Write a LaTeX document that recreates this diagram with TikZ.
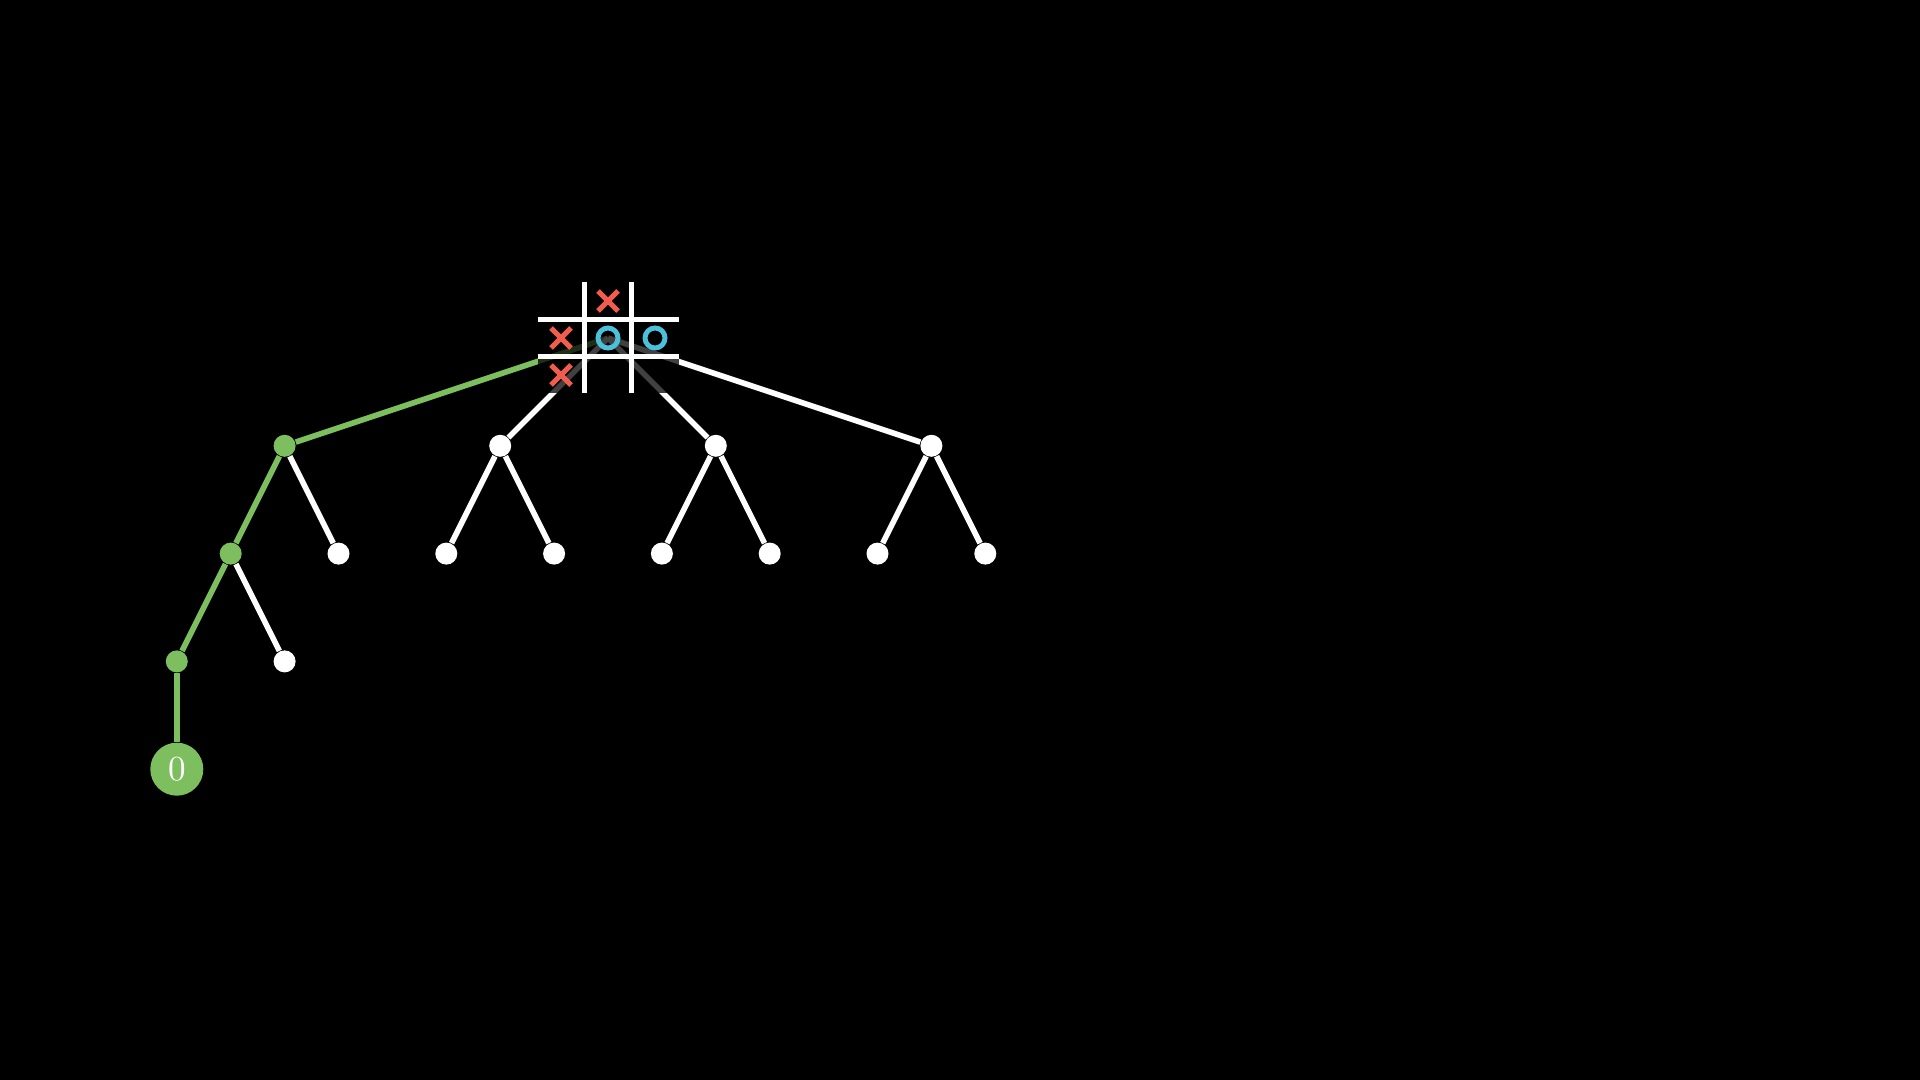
\documentclass[tikz,border=0pt]{standalone}
\usetikzlibrary{positioning}
\definecolor{pathgreen}{RGB}{125,190,95}
\definecolor{xred}{RGB}{240,92,78}
\definecolor{oblue}{RGB}{75,192,218}

\begin{document}
\begin{tikzpicture}[
    vert/.style={circle,fill=white,inner sep=0pt,minimum size=0.22cm},
    gvert/.style={vert,fill=pathgreen},
    link/.style={white,line width=1.6pt},
    glink/.style={link,pathgreen},
    boardline/.style={white,line width=1.5pt},
    xmark/.style={xred,line width=1.5pt},
    omark/.style={oblue,line width=1.4pt},
    node distance=1.078cm and 0.539cm, on grid]

  %background
  \fill[black] (0,0) rectangle (19.2,-10.8);

  \def\d{1.078};
  \def\rx{6.08};
  \def\ry{-3.38};

  \coordinate (root) at (\rx,\ry);

  %level 1
  \foreach \i/\name/\sty in {-3/a/gvert,-1/b/vert,1/c/vert,3/d/vert}{
     \node[\sty] (\name) at (\rx+\i*\d, \ry-\d) {};
  }

  %level 2
  \node[gvert] (a1) [below left=of a] {};
  \node[vert]  (a2) [below right=of a] {};
  \foreach \p in {b,c,d}{
     \node[vert] (\p1) [below left=of \p] {};
     \node[vert] (\p2) [below right=of \p] {};
  }

  %level 3
  \node[gvert] (a11) [below left=of a1] {};
  \node[vert]  (a12) [below right=of a1] {};

  %score
  \node[circle,fill=pathgreen,text=white,inner sep=0pt,minimum size=0.53cm] (z) [below=of a11] {0};

  %edges
  \draw[glink] (root) -- (a);
  \foreach \p in {b,c,d}{
     \draw[link] (root) -- (\p);
     \draw[link] (\p) -- (\p1);
     \draw[link] (\p) -- (\p2);
  }
  \draw[glink] (a) -- (a1);
  \draw[link] (a) -- (a2);
  \draw[glink] (a1) -- (a11);
  \draw[link] (a1) -- (a12);
  \draw[glink] (a11) -- (z);

  %board
  \fill[black,opacity=0.75] (\rx-0.705,\ry+0.555) rectangle (\rx+0.705,\ry-0.555);
  \foreach \s in {-1,1}{
     \draw[boardline] (\rx+\s*0.235,\ry+0.555) -- (\rx+\s*0.235,\ry-0.555);
     \draw[boardline] (\rx-0.705,\ry+\s*0.185) -- (\rx+0.705,\ry+\s*0.185);
  }
  \foreach \c/\r in {0/1,-1/0,-1/-1}{
     \draw[xmark] (\rx+\c*0.47-0.1,\ry+\r*0.37-0.1) -- ++(0.2,0.2);
     \draw[xmark] (\rx+\c*0.47-0.1,\ry+\r*0.37+0.1) -- ++(0.2,-0.2);
  }
  \foreach \c/\r in {0/0,1/0}{
     \draw[omark] (\rx+\c*0.47,\ry+\r*0.37) circle[radius=0.1];
  }

\end{tikzpicture}
\end{document}
